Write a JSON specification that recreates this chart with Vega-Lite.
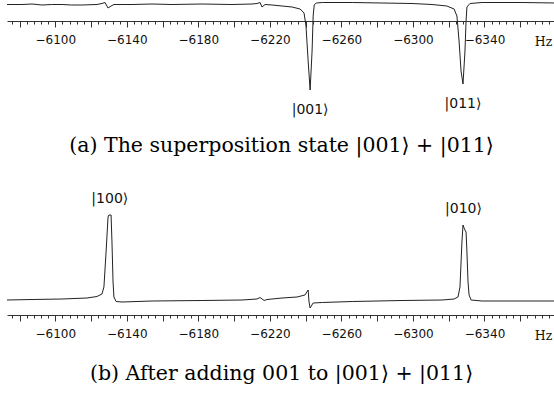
{
  "$schema": "https://vega.github.io/schema/vega-lite/v6.json",
  "padding": {"left": 5, "top": 0, "right": 0, "bottom": 0},
  "autosize": {"type": "pad"},
  "config": {"view": {"stroke": null}, "background": "white"},
  "datasets": {
    "top": [
      {"hz": -6073.0, "v": -0.5}, {"hz": -6081.4, "v": -0.5}, {"hz": -6087.0, "v": 0}, {"hz": -6092.6, "v": -1},
      {"hz": -6098.0, "v": -0.5}, {"hz": -6103.8, "v": -0.5}, {"hz": -6109.0, "v": -1}, {"hz": -6114.9, "v": -1},
      {"hz": -6123.3, "v": -0.5}, {"hz": -6126.1, "v": 0.5}, {"hz": -6127.8, "v": 1.5}, {"hz": -6129.5, "v": -4},
      {"hz": -6131.2, "v": -2}, {"hz": -6132.8, "v": -0.5}, {"hz": -6142.9, "v": -0.5}, {"hz": -6154.1, "v": 0},
      {"hz": -6165.3, "v": -0.5}, {"hz": -6182.0, "v": 0}, {"hz": -6198.8, "v": -0.5}, {"hz": -6210.0, "v": 0},
      {"hz": -6212.8, "v": 0.5}, {"hz": -6214.5, "v": 1.5}, {"hz": -6215.6, "v": -3}, {"hz": -6217.3, "v": -0.5},
      {"hz": -6221.2, "v": -1}, {"hz": -6226.8, "v": -2}, {"hz": -6232.4, "v": -3}, {"hz": -6236.9, "v": -5},
      {"hz": -6239.1, "v": -9}, {"hz": -6240.2, "v": -22}, {"hz": -6241.4, "v": -57}, {"hz": -6242.5, "v": -86},
      {"hz": -6243.6, "v": -47}, {"hz": -6244.2, "v": -12}, {"hz": -6244.8, "v": -1}, {"hz": -6245.9, "v": 1},
      {"hz": -6249.3, "v": 1.5}, {"hz": -6266.0, "v": 1.5}, {"hz": -6282.7, "v": 1}, {"hz": -6299.5, "v": 0.5},
      {"hz": -6310.7, "v": -0.5}, {"hz": -6319.0, "v": -2}, {"hz": -6323.0, "v": -5}, {"hz": -6324.6, "v": -12},
      {"hz": -6325.8, "v": -37}, {"hz": -6326.9, "v": -67}, {"hz": -6328.0, "v": -80}, {"hz": -6329.1, "v": -47},
      {"hz": -6329.7, "v": -17}, {"hz": -6330.2, "v": -3}, {"hz": -6331.9, "v": 0.5}, {"hz": -6338.6, "v": 1.5},
      {"hz": -6361.0, "v": 1.5}, {"hz": -6380.0, "v": 1}
    ],
    "bottom": [
      {"hz": -6073.0, "v": 0}, {"hz": -6087.0, "v": 0.5}, {"hz": -6103.8, "v": 1}, {"hz": -6117.7, "v": 2},
      {"hz": -6123.3, "v": 3.5}, {"hz": -6126.1, "v": 6}, {"hz": -6127.2, "v": 13}, {"hz": -6128.4, "v": 48},
      {"hz": -6129.5, "v": 83}, {"hz": -6130.0, "v": 85}, {"hz": -6131.2, "v": 85}, {"hz": -6131.7, "v": 58},
      {"hz": -6132.3, "v": 18}, {"hz": -6132.8, "v": 3}, {"hz": -6134.0, "v": -1.5}, {"hz": -6137.3, "v": -2},
      {"hz": -6154.1, "v": -1}, {"hz": -6182.0, "v": -0.5}, {"hz": -6204.4, "v": 0}, {"hz": -6212.8, "v": 1},
      {"hz": -6214.5, "v": 2.5}, {"hz": -6216.8, "v": -0.5}, {"hz": -6218.4, "v": 0.5}, {"hz": -6226.8, "v": 2},
      {"hz": -6235.2, "v": 3}, {"hz": -6239.6, "v": 5}, {"hz": -6241.4, "v": 10}, {"hz": -6241.9, "v": -2},
      {"hz": -6242.5, "v": -8}, {"hz": -6244.2, "v": -3}, {"hz": -6249.3, "v": -2.5}, {"hz": -6266.0, "v": -1.5},
      {"hz": -6293.9, "v": -0.5}, {"hz": -6316.3, "v": 0}, {"hz": -6323.0, "v": 1}, {"hz": -6325.2, "v": 3},
      {"hz": -6326.3, "v": 13}, {"hz": -6327.4, "v": 58}, {"hz": -6328.0, "v": 75}, {"hz": -6328.6, "v": 72},
      {"hz": -6329.1, "v": 70}, {"hz": -6329.7, "v": 68}, {"hz": -6330.2, "v": 48}, {"hz": -6330.8, "v": 18},
      {"hz": -6331.4, "v": 5}, {"hz": -6332.5, "v": 0}, {"hz": -6338.6, "v": -1}, {"hz": -6361.0, "v": -1},
      {"hz": -6380.0, "v": -1}
    ],
    "topLabels": [
      {"hz": -6242.5, "v": -86, "label": "|001⟩"},
      {"hz": -6328.0, "v": -80, "label": "|011⟩"}
    ],
    "bottomLabels": [
      {"hz": -6130.5, "v": 85, "label": "|100⟩"},
      {"hz": -6328.3, "v": 75, "label": "|010⟩"}
    ]
  },
  "spacing": 25,
  "vconcat": [
    {
      "width": 549,
      "height": 115,
      "title": {"text": "(a) The superposition state |001⟩ + |011⟩", "orient": "bottom", "font": "DejaVu Serif", "fontSize": 20.5, "fontWeight": "normal", "color": "#000", "offset": 19, "anchor": "middle"},
      "resolve": {"axis": {"x": "independent"}},
      "layer": [
        {
          "data": {"name": "top"},
          "mark": {"type": "line", "color": "#222", "strokeWidth": 1, "interpolate": "linear"},
          "encoding": {
            "x": {"field": "hz", "type": "quantitative",
              "scale": {"domain": [-6380, -6073], "reverse": true, "zero": false, "nice": false},
              "axis": {"orient": "bottom", "offset": -95, "values": [-6080,-6100,-6120,-6140,-6160,-6180,-6200,-6220,-6240,-6260,-6280,-6300,-6320,-6340,-6360],
                "format": "d", "labelExpr": "datum.value % 40 == 0 ? '' : datum.label", "tickSize": 6, "tickColor": "#333", "domainColor": "#333", "grid": false,
                "labelFont": "DejaVu Sans", "labelFontSize": 12, "labelColor": "#111", "labelPadding": 7, "labelFlush": false, "labelOverlap": false,
                "title": "Hz", "titleFont": "DejaVu Serif", "titleFontSize": 12.5, "titleFontWeight": "normal", "titleColor": "#111",
                "titleX": 536, "titleY": 20, "titleAlign": "center", "titleBaseline": "middle", "titleAnchor": null}},
            "y": {"field": "v", "type": "quantitative", "scale": {"domain": [-112, 3], "zero": false, "nice": false}, "axis": null}
          }
        },
        {
          "data": {"name": "topLabels"},
          "mark": {"type": "text", "font": "DejaVu Sans", "fontSize": 14, "color": "#111", "dy": 20, "baseline": "middle", "align": "center"},
          "encoding": {
            "x": {"field": "hz", "type": "quantitative",
              "axis": {"orient": "bottom", "offset": -95, "values": [-6076,-6080,-6084,-6088,-6092,-6096,-6100,-6104,-6108,-6112,-6116,-6120,-6124,-6128,-6132,-6136,-6140,-6144,-6148,-6152,-6156,-6160,-6164,-6168,-6172,-6176,-6180,-6184,-6188,-6192,-6196,-6200,-6204,-6208,-6212,-6216,-6220,-6224,-6228,-6232,-6236,-6240,-6244,-6248,-6252,-6256,-6260,-6264,-6268,-6272,-6276,-6280,-6284,-6288,-6292,-6296,-6300,-6304,-6308,-6312,-6316,-6320,-6324,-6328,-6332,-6336,-6340,-6344,-6348,-6352,-6356,-6360,-6364,-6368,-6372,-6376],
                "labels": false, "domain": false, "grid": false, "tickSize": 3, "tickColor": "#333", "title": null}},
            "y": {"field": "v", "type": "quantitative", "axis": null},
            "text": {"field": "label"}
          }
        }
      ]
    },
    {
      "width": 549,
      "height": 133,
      "title": {"text": "(b) After adding 001 to |001⟩ + |011⟩", "orient": "bottom", "font": "DejaVu Serif", "fontSize": 20.5, "fontWeight": "normal", "color": "#000", "offset": 22, "anchor": "middle"},
      "resolve": {"axis": {"x": "independent"}},
      "layer": [
        {
          "data": {"name": "bottom"},
          "mark": {"type": "line", "color": "#222", "strokeWidth": 1, "interpolate": "linear"},
          "encoding": {
            "x": {"field": "hz", "type": "quantitative",
              "scale": {"domain": [-6380, -6073], "reverse": true, "zero": false, "nice": false},
              "axis": {"orient": "bottom", "values": [-6080,-6100,-6120,-6140,-6160,-6180,-6200,-6220,-6240,-6260,-6280,-6300,-6320,-6340,-6360],
                "format": "d", "labelExpr": "datum.value % 40 == 0 ? '' : datum.label", "tickSize": 6, "tickColor": "#333", "domainColor": "#333", "grid": false,
                "labelFont": "DejaVu Sans", "labelFontSize": 12, "labelColor": "#111", "labelPadding": 7, "labelFlush": false, "labelOverlap": false,
                "title": "Hz", "titleFont": "DejaVu Serif", "titleFontSize": 12.5, "titleFontWeight": "normal", "titleColor": "#111",
                "titleX": 536, "titleY": 20, "titleAlign": "center", "titleBaseline": "middle", "titleAnchor": null}},
            "y": {"field": "v", "type": "quantitative", "scale": {"domain": [-15, 118], "zero": false, "nice": false}, "axis": null}
          }
        },
        {
          "data": {"name": "bottomLabels"},
          "mark": {"type": "text", "font": "DejaVu Sans", "fontSize": 14, "color": "#111", "dy": -16, "baseline": "middle", "align": "center"},
          "encoding": {
            "x": {"field": "hz", "type": "quantitative",
              "axis": {"orient": "bottom", "values": [-6076,-6080,-6084,-6088,-6092,-6096,-6100,-6104,-6108,-6112,-6116,-6120,-6124,-6128,-6132,-6136,-6140,-6144,-6148,-6152,-6156,-6160,-6164,-6168,-6172,-6176,-6180,-6184,-6188,-6192,-6196,-6200,-6204,-6208,-6212,-6216,-6220,-6224,-6228,-6232,-6236,-6240,-6244,-6248,-6252,-6256,-6260,-6264,-6268,-6272,-6276,-6280,-6284,-6288,-6292,-6296,-6300,-6304,-6308,-6312,-6316,-6320,-6324,-6328,-6332,-6336,-6340,-6344,-6348,-6352,-6356,-6360,-6364,-6368,-6372,-6376],
                "labels": false, "domain": false, "grid": false, "tickSize": 3, "tickColor": "#333", "title": null}},
            "y": {"field": "v", "type": "quantitative", "axis": null},
            "text": {"field": "label"}
          }
        }
      ]
    }
  ]
}
